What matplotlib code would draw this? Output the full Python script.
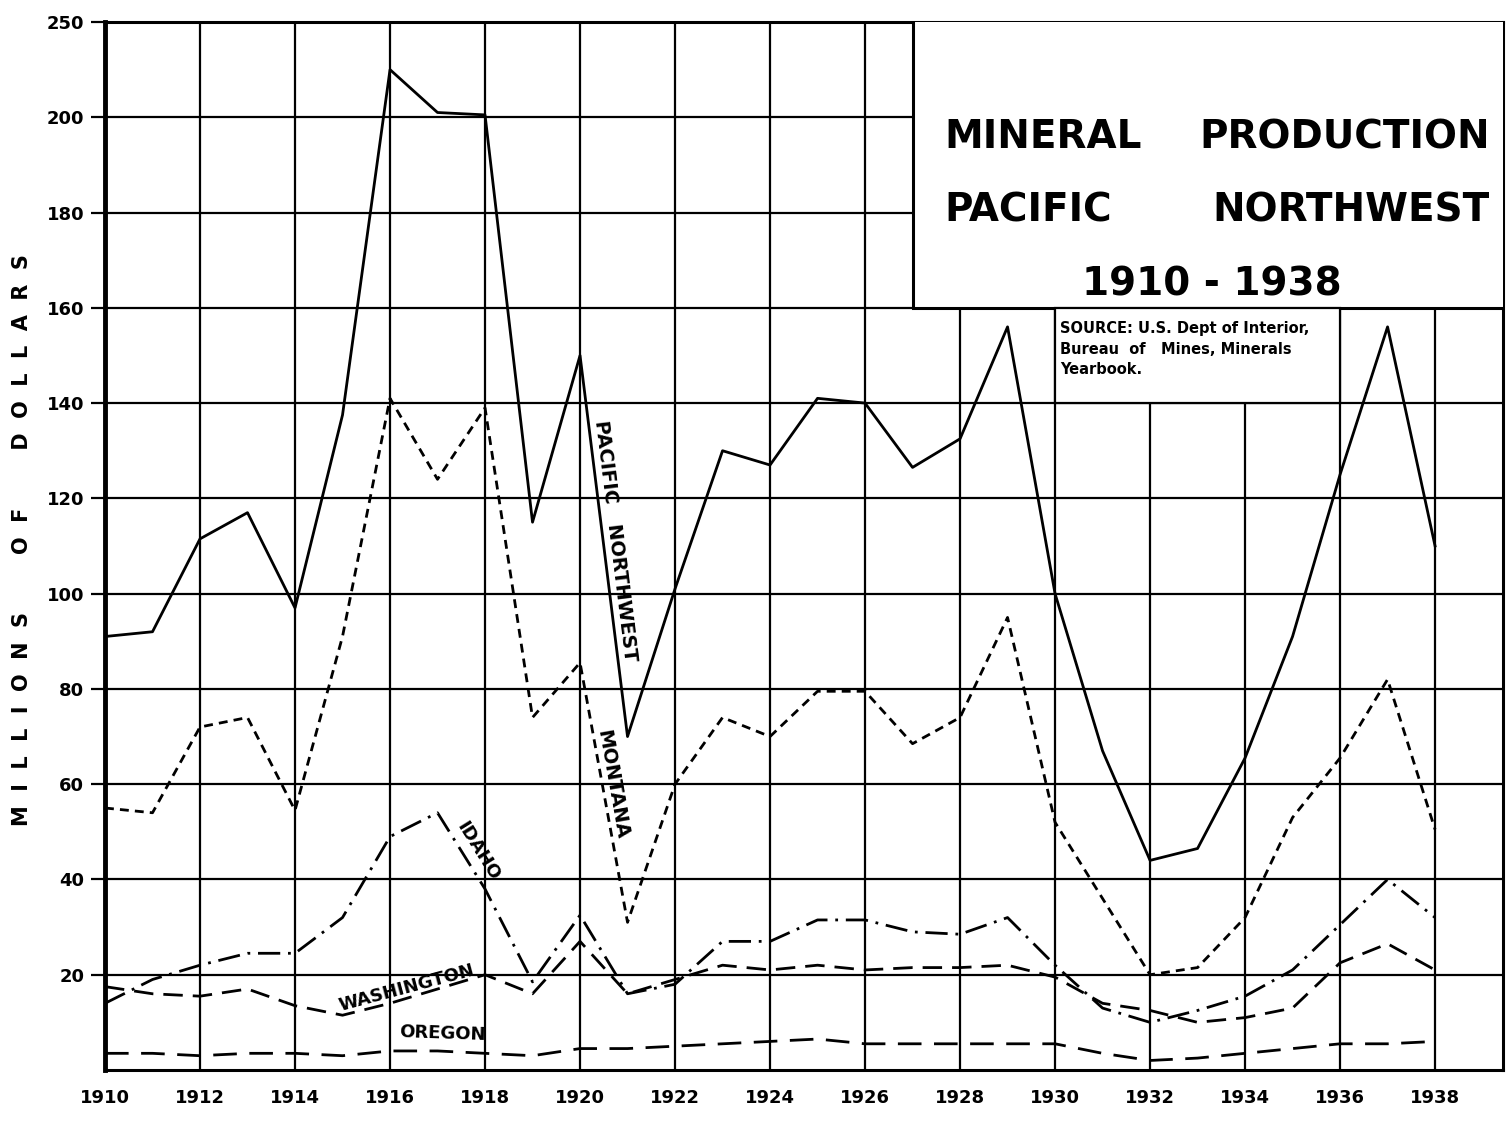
import numpy as np
import matplotlib.pyplot as plt
from matplotlib.patches import Rectangle

# ── DATA (millions of dollars) ────────────────────────────────────────────────
years = list(range(1910, 1939))

pacific_nw = [91, 92, 111.5, 117, 97, 137.5, 210, 201, 200.5, 115,
              150, 70, 101, 130, 127, 141, 140, 126.5, 132.5, 156,
              100, 67, 44, 46.5, 65.5, 91, 125, 156, 110]
montana = [55, 54, 72, 74, 54.5, 91, 141, 124, 139, 74,
           85.5, 31, 60, 74, 70, 79.5, 79.5, 68.5, 74, 95,
           52, 36, 20, 21.5, 32, 53, 65.5, 82, 50.5]
idaho = [14, 19, 22, 24.5, 24.5, 32, 49, 54, 38, 18.5,
         32.5, 16, 18, 27, 27, 31.5, 31.5, 29, 28.5, 32,
         22, 13, 10, 12.5, 15.5, 21, 30.5, 40, 32]
washington = [17.5, 16, 15.5, 17, 13.5, 11.5, 14, 17, 20, 16,
              27, 16, 19, 22, 21, 22, 21, 21.5, 21.5, 22,
              19.5, 14, 12.5, 10, 11, 13, 22.5, 26.5, 21]
oregon = [3.5, 3.5, 3, 3.5, 3.5, 3, 4, 4, 3.5, 3,
          4.5, 4.5, 5, 5.5, 6, 6.5, 5.5, 5.5, 5.5, 5.5,
          5.5, 3.5, 2, 2.5, 3.5, 4.5, 5.5, 5.5, 6]

x_ticks = list(range(1910, 1939, 2))
y_ticks = [20, 40, 60, 80, 100, 120, 140, 160, 180, 200, 220]
y_labels = ['20', '40', '60', '80', '100', '120', '140', '160', '180', '200', '250']

plt.rcParams['font.family'] = ['DejaVu Sans']
plt.rcParams['font.weight'] = 'bold'

# ── FIGURE ────────────────────────────────────────────────────────────────────
W, H = 1506, 1125
fig = plt.figure(figsize=(W / 100, H / 100), dpi=100)
fig.patch.set_facecolor('white')
ax = fig.add_axes([105 / W, 1 - 1070 / H, (1503 - 105) / W, (1070 - 22) / H])
ax.set_xlim(1910, 1939.43)
ax.set_ylim(0, 220)

# grid
ax.set_xticks(x_ticks)
ax.set_xticklabels([str(y) for y in x_ticks], fontsize=13, fontweight='bold')
ax.set_yticks(y_ticks)
ax.set_yticklabels(y_labels, fontsize=13, fontweight='bold')
ax.grid(True, color='black', lw=1.6, zorder=1)
ax.tick_params(axis='x', length=0, pad=14)
ax.tick_params(axis='y', length=10, width=1.6, pad=5)
for side in ['top', 'right', 'bottom']:
    ax.spines[side].set_linewidth(2.2)
ax.spines['left'].set_linewidth(3.5)

# ── LINES ─────────────────────────────────────────────────────────────────────
lw = 2.0
ax.plot(years, pacific_nw, color='black', lw=lw, zorder=4)
ax.plot(years, montana, color='black', lw=lw, dashes=(3.2, 2.2), zorder=4)
ax.plot(years, idaho, color='black', lw=lw, dashes=(8, 2.8, 1, 2.8), zorder=4)
ax.plot(years, washington, color='black', lw=lw, dashes=(7, 3.6), zorder=4)
ax.plot(years, oregon, color='black', lw=lw, dashes=(8.5, 4.5), zorder=4)

# line labels
lab = dict(fontweight='bold', ha='center', va='center',
           rotation_mode='anchor', zorder=5)
ax.text(1920.74, 111, 'PACIFIC   NORTHWEST', rotation=-83, fontsize=14, **lab)
ax.text(1920.68, 60, 'MONTANA', rotation=-80, fontsize=14, **lab)
ax.text(1917.85, 46, 'IDAHO', rotation=-58, fontsize=13, **lab)
ax.text(1916.35, 17.2, 'WASHINGTON', rotation=15, fontsize=13, **lab)
ax.text(1917.1, 7.6, 'OREGON', rotation=-2, fontsize=13, **lab)

# ── TITLE AND SOURCE BOXES ────────────────────────────────────────────────────
ax.add_patch(Rectangle((1927, 160), 14, 62, facecolor='white',
                       edgecolor='black', lw=2.2, zorder=6))
ax.add_patch(Rectangle((1930, 140), 6, 20, facecolor='white',
                       edgecolor='black', lw=1.6, zorder=6))

ttl = dict(fontsize=28, fontweight='bold', va='center', zorder=7)
ax.text(1927.68, 195.8, 'MINERAL', ha='left', **ttl)
ax.text(1939.15, 195.8, 'PRODUCTION', ha='right', **ttl)
ax.text(1927.68, 180.4, 'PACIFIC', ha='left', **ttl)
ax.text(1939.15, 180.4, 'NORTHWEST', ha='right', **ttl)
ax.text(1933.3, 164.9, '1910 - 1938', ha='center', **ttl)

ax.text(1930.1, 157.2, 'SOURCE: U.S. Dept of Interior,\nBureau  of   Mines, Minerals\nYearbook.',
        fontsize=10.5, fontweight='bold', ha='left', va='top', linespacing=1.45, zorder=7)

# y axis title
fig.text(22 / W, 1 - 540 / H,
         'M  I  L  L  I  O  N  S        O  F        D  O  L  L  A  R  S',
         rotation=90, ha='center', va='center', fontsize=15, fontweight='bold')

fig.savefig('out.png', dpi=100, facecolor='white')
